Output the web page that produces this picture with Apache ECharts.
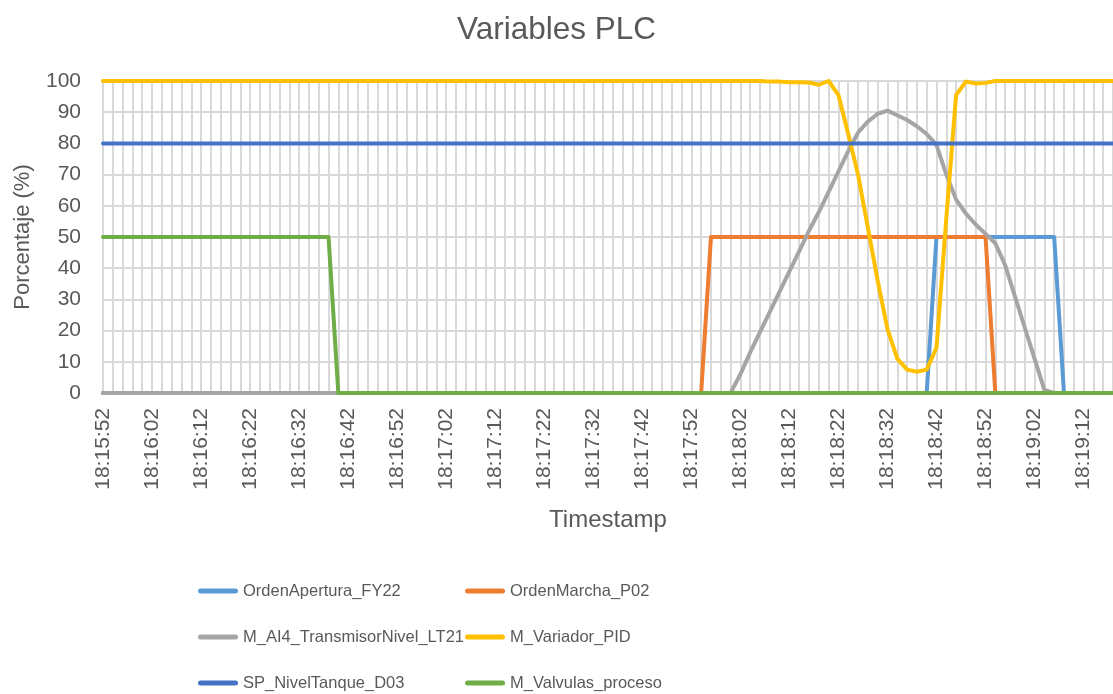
<!DOCTYPE html>
<html>
<head>
<meta charset="utf-8">
<title>Variables PLC</title>
<script src="https://cdn.jsdelivr.net/npm/echarts@6/dist/echarts.min.js"></script>
<style>
  html, body { margin: 0; padding: 0; background: #ffffff; }
  #chart { width: 1113px; height: 694px; }
</style>
</head>
<body>
<div id="chart"></div>
<script>
// Sample timestamps (one every 2 s)
const timestamps = [
  '18:15:52','18:15:54','18:15:56','18:15:58',
  '18:16:00','18:16:02','18:16:04','18:16:06','18:16:08','18:16:10','18:16:12','18:16:14','18:16:16','18:16:18',
  '18:16:20','18:16:22','18:16:24','18:16:26','18:16:28','18:16:30','18:16:32','18:16:34','18:16:36','18:16:38',
  '18:16:40','18:16:42','18:16:44','18:16:46','18:16:48','18:16:50','18:16:52','18:16:54','18:16:56','18:16:58',
  '18:17:00','18:17:02','18:17:04','18:17:06','18:17:08','18:17:10','18:17:12','18:17:14','18:17:16','18:17:18',
  '18:17:20','18:17:22','18:17:24','18:17:26','18:17:28','18:17:30','18:17:32','18:17:34','18:17:36','18:17:38',
  '18:17:40','18:17:42','18:17:44','18:17:46','18:17:48','18:17:50','18:17:52','18:17:54','18:17:56','18:17:58',
  '18:18:00','18:18:02','18:18:04','18:18:06','18:18:08','18:18:10','18:18:12','18:18:14','18:18:16','18:18:18',
  '18:18:20','18:18:22','18:18:24','18:18:26','18:18:28','18:18:30','18:18:32','18:18:34','18:18:36','18:18:38',
  '18:18:40','18:18:42','18:18:44','18:18:46','18:18:48','18:18:50','18:18:52','18:18:54','18:18:56','18:18:58',
  '18:19:00','18:19:02','18:19:04','18:19:06','18:19:08','18:19:10','18:19:12','18:19:14','18:19:16','18:19:18'
];

const ordenAperturaFY22 = [
  0,0,0,0,0,0,0,0,0,0, 0,0,0,0,0,0,0,0,0,0,
  0,0,0,0,0,0,0,0,0,0, 0,0,0,0,0,0,0,0,0,0,
  0,0,0,0,0,0,0,0,0,0, 0,0,0,0,0,0,0,0,0,0,
  0,0,0,0,0,0,0,0,0,0, 0,0,0,0,0,0,0,0,0,0,
  0,0,0,0,0,50,50,50,50,50, 50,50,50,50,50,50,50,50,0,0,
  0,0,0,0
];

const ordenMarchaP02 = [
  0,0,0,0,0,0,0,0,0,0, 0,0,0,0,0,0,0,0,0,0,
  0,0,0,0,0,0,0,0,0,0, 0,0,0,0,0,0,0,0,0,0,
  0,0,0,0,0,0,0,0,0,0, 0,0,0,0,0,0,0,0,0,0,
  0,0,50,50,50,50,50,50,50,50, 50,50,50,50,50,50,50,50,50,50,
  50,50,50,50,50,50,50,50,50,50, 50,0,0,0,0,0,0,0,0,0,
  0,0,0,0
];

const transmisorNivelLT21 = [
  0,0,0,0,0,0,0,0,0,0, 0,0,0,0,0,0,0,0,0,0,
  0,0,0,0,0,0,0,0,0,0, 0,0,0,0,0,0,0,0,0,0,
  0,0,0,0,0,0,0,0,0,0, 0,0,0,0,0,0,0,0,0,0,
  0,0,0,0,0,6,13,19.5,26,32.5, 39,45.5,52,58,64.5,71,77.5,83.5,87,89.5,
  90.5,89,87.5,85.5,83,79.5,70,62,57.5,54, 51,48,41,31,21,11,1,0,0,0,
  0,0,0,0
];

const variadorPID = [
  100,100,100,100,100,100,100,100,100,100, 100,100,100,100,100,100,100,100,100,100,
  100,100,100,100,100,100,100,100,100,100, 100,100,100,100,100,100,100,100,100,100,
  100,100,100,100,100,100,100,100,100,100, 100,100,100,100,100,100,100,100,100,100,
  100,100,100,100,100,100,100,100,99.8,99.8, 99.6,99.6,99.5,98.8,100,95.5,83,70,53,36,
  20.5,11,7.5,6.8,7.5,14.5,56,95.5,99.8,99.2, 99.4,100,100,100,100,100,100,100,100,100,
  100,100,100,100
];

const spNivelTanqueD03 = [
  80,80,80,80,80,80,80,80,80,80, 80,80,80,80,80,80,80,80,80,80,
  80,80,80,80,80,80,80,80,80,80, 80,80,80,80,80,80,80,80,80,80,
  80,80,80,80,80,80,80,80,80,80, 80,80,80,80,80,80,80,80,80,80,
  80,80,80,80,80,80,80,80,80,80, 80,80,80,80,80,80,80,80,80,80,
  80,80,80,80,80,80,80,80,80,80, 80,80,80,80,80,80,80,80,80,80,
  80,80,80,80
];

const valvulasProceso = [
  50,50,50,50,50,50,50,50,50,50, 50,50,50,50,50,50,50,50,50,50,
  50,50,50,50,0,0,0,0,0,0, 0,0,0,0,0,0,0,0,0,0,
  0,0,0,0,0,0,0,0,0,0, 0,0,0,0,0,0,0,0,0,0,
  0,0,0,0,0,0,0,0,0,0, 0,0,0,0,0,0,0,0,0,0,
  0,0,0,0,0,0,0,0,0,0, 0,0,0,0,0,0,0,0,0,0,
  0,0,0,0
];

const seriesNames = [
  'OrdenApertura_FY22', 'OrdenMarcha_P02',
  'M_AI4_TransmisorNivel_LT21', 'M_Variador_PID',
  'SP_NivelTanque_D03', 'M_Valvulas_proceso'
];
const seriesData = [
  ordenAperturaFY22, ordenMarchaP02, transmisorNivelLT21,
  variadorPID, spNivelTanqueD03, valvulasProceso
];
const seriesColors = ['#5B9BD5', '#ED7D31', '#A5A5A5', '#FFC000', '#4472C4', '#70AD47'];

const FONT = '"Liberation Sans", Arial, sans-serif';
const TEXT = '#595959';
const GRID = '#D9D9D9';

const chart = echarts.init(document.getElementById('chart'), null, { renderer: 'canvas' });

// Two-column legend: one component per entry, laid out in rows
const legendIcon = 'path://M2.5,0 L37.5,0 A2.5,2.5 0 0 1 37.5,5 L2.5,5 A2.5,2.5 0 0 1 2.5,0 Z';
const legendCols = [198, 465];
const legendRows = [581, 627, 673];
const legends = seriesNames.map((name, i) => ({
  data: [name],
  left: legendCols[i % 2],
  top: legendRows[Math.floor(i / 2)],
  orient: 'horizontal',
  icon: legendIcon,
  itemWidth: 40,
  itemHeight: 5,
  padding: 0,
  selectedMode: false,
  textStyle: { color: TEXT, fontSize: 16.5, fontFamily: FONT, lineHeight: 20 }
}));

chart.setOption({
  animation: false,
  backgroundColor: '#ffffff',
  title: {
    text: 'Variables PLC',
    left: 'center',
    top: 9,
    textStyle: { color: TEXT, fontSize: 31.5, fontWeight: 'normal', fontFamily: FONT }
  },
  legend: legends,
  grid: { left: 103, right: 0, top: 81, bottom: 301, containLabel: false },
  xAxis: {
    type: 'category',
    data: timestamps,
    boundaryGap: false,
    name: 'Timestamp',
    nameLocation: 'middle',
    nameGap: 115,
    nameTextStyle: { color: TEXT, fontSize: 24, fontFamily: FONT },
    axisLine: { show: true, lineStyle: { color: GRID, width: 1 } },
    axisTick: { show: false },
    axisLabel: {
      interval: 4,
      rotate: 90,
      margin: 15,
      color: TEXT,
      fontSize: 21,
      fontFamily: FONT
    },
    splitLine: { show: true, interval: 0, lineStyle: { color: GRID, width: 2 } }
  },
  yAxis: {
    type: 'value',
    min: 0,
    max: 100,
    interval: 10,
    name: 'Porcentaje (%)',
    nameLocation: 'middle',
    nameGap: 69,
    nameTextStyle: { color: TEXT, fontSize: 22, fontFamily: FONT },
    axisLine: { show: false },
    axisTick: { show: false },
    axisLabel: { margin: 22, color: TEXT, fontSize: 21, fontFamily: FONT },
    splitLine: { show: true, lineStyle: { color: GRID, width: 2 } }
  },
  series: seriesNames.map((name, i) => ({
    name: name,
    type: 'line',
    data: seriesData[i],
    symbol: 'none',
    showSymbol: false,
    color: seriesColors[i],
    lineStyle: { color: seriesColors[i], width: 4, join: 'round', cap: 'round' }
  }))
});
</script>
</body>
</html>
